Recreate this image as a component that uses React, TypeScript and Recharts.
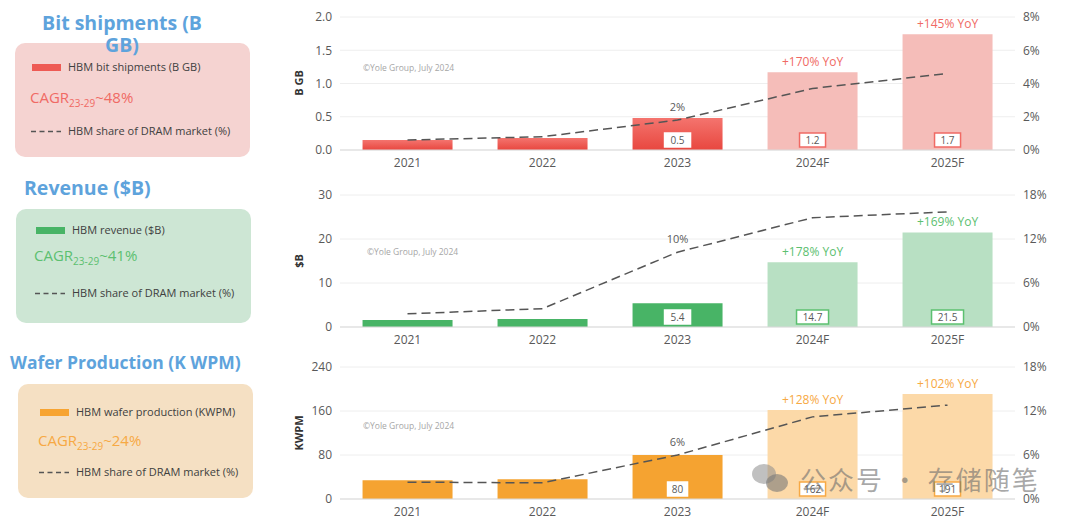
import React from 'react';
import {
  ComposedChart,
  Bar,
  Line,
  XAxis,
  YAxis,
  CartesianGrid,
  Cell,
  LabelList
} from 'recharts';

// カテゴリ
const years = ['2021', '2022', '2023', '2024F', '2025F'];

// ビット出荷量 (B GB) と DRAM 市場シェア (%)
const bitShipments = [0.15, 0.18, 0.48, 1.17, 1.74];
const bitLabels = ['', '', '0.5', '1.2', '1.7'];
const bitShare = [0.6, 0.8, 1.8, 3.7, 4.6];
const bitYoY = ['', '', '', '+170% YoY', '+145% YoY'];
const bitPct = ['', '', '2%', '', ''];

// 売上 ($B)
const revenue = [1.6, 1.8, 5.4, 14.7, 21.5];
const revenueLabels = ['', '', '5.4', '14.7', '21.5'];
const revenueShare = [1.8, 2.5, 10.2, 14.9, 15.7];
const revenueYoY = ['', '', '', '+178% YoY', '+169% YoY'];
const revenuePct = ['', '', '10%', '', ''];

// ウェハ生産 (KWPM)
const wafers = [34, 36, 80, 162, 191];
const waferLabels = ['', '', '80', '162', '191'];
const waferShare = [2.3, 2.2, 6.0, 11.2, 12.8];
const waferYoY = ['', '', '', '+128% YoY', '+102% YoY'];
const waferPct = ['', '', '6%', '', ''];

// 軸の目盛り
const bitTicks = [0, 0.5, 1, 1.5, 2];
const bitShareTicks = [0, 2, 4, 6, 8];
const revenueTicks = [0, 10, 20, 30];
const waferTicks = [0, 80, 160, 240];
const shareTicks18 = [0, 6, 12, 18];

const FONT = '"Open Sans", "Noto Sans", sans-serif';
const TITLE_BLUE = '#5ea3dc';
const TEXT_GRAY = '#595959';

interface PanelProps {
  top: number;
  plotHeight: number;
  values: number[];
  valueLabels: string[];
  share: number[];
  yoy: string[];
  pct: string[];
  leftTicks: number[];
  rightTicks: number[];
  leftFormat: (v: number) => string;
  actualFill: string;
  forecastFill: string;
  accent: string;
  gradientId?: string;
}

const ChartPanel: React.FC<PanelProps> = ({
  top, plotHeight, values, valueLabels, share, yoy, pct,
  leftTicks, rightTicks, leftFormat, actualFill, forecastFill, accent, gradientId
}) => {
  const data = years.map((y, i) => ({ year: y, value: values[i], share: share[i] }));
  const marginTop = 17;
  const height = marginTop + plotHeight + 30;

  // 棒の下部に値ボックス
  const renderValueBox = (props: any) => {
    const { x, y, width, height: h, index } = props;
    const text = valueLabels[index];
    if (!text) return null;
    const forecast = years[index].endsWith('F');
    const bw = text.length * 6 + 8;
    const bh = 14;
    const cx = x + width / 2;
    const cy = y + h - 10;
    return (
      <g key={`vb-${index}`}>
        <rect
          x={cx - bw / 2}
          y={cy - bh / 2}
          width={bw}
          height={bh}
          fill="#ffffff"
          stroke={forecast ? accent : '#ffffff'}
          strokeWidth={1.5}
        />
        <text x={cx} y={cy + 3.5} textAnchor="middle" fontSize={10} fill={TEXT_GRAY} fontFamily={FONT}>
          {text}
        </text>
      </g>
    );
  };

  const renderYoY = (props: any) => {
    const { x, y, width, index } = props;
    const text = yoy[index];
    if (!text) return null;
    return (
      <text key={`yoy-${index}`} x={x + width / 2} y={y - 6} textAnchor="middle" fontSize={12} fill={accent} fontFamily={FONT}>
        {text}
      </text>
    );
  };

  const renderPct = (props: any) => {
    const { x, y, index } = props;
    const text = pct[index];
    if (!text) return null;
    return (
      <text key={`pct-${index}`} x={x} y={y - 9} textAnchor="middle" fontSize={11} fill={TEXT_GRAY} fontFamily={FONT}>
        {text}
      </text>
    );
  };

  return (
    <div style={{ position: 'absolute', left: 280, top, width: 790, height }}>
      <ComposedChart
        width={790}
        height={height}
        data={data}
        margin={{ top: marginTop, right: 5, left: 0, bottom: 0 }}
        barCategoryGap="16.7%"
      >
        {gradientId && (
          <defs>
            <linearGradient id={gradientId} x1="0" y1="0" x2="0" y2="1">
              <stop offset="0%" stopColor="#f4746e" />
              <stop offset="100%" stopColor="#e8473f" />
            </linearGradient>
          </defs>
        )}
        <CartesianGrid yAxisId="left" vertical={false} stroke="#eeeeee" />
        <XAxis
          dataKey="year"
          axisLine={{ stroke: '#d9d9d9' }}
          tickLine={false}
          height={30}
          tick={{ fontSize: 12, fill: TEXT_GRAY, fontFamily: FONT }}
        />
        <YAxis
          yAxisId="left"
          width={60}
          domain={[leftTicks[0], leftTicks[leftTicks.length - 1]]}
          ticks={leftTicks}
          tickFormatter={leftFormat}
          axisLine={false}
          tickLine={false}
          tick={{ fontSize: 12, fill: TEXT_GRAY, fontFamily: FONT }}
        />
        <YAxis
          yAxisId="right"
          orientation="right"
          width={50}
          domain={[rightTicks[0], rightTicks[rightTicks.length - 1]]}
          ticks={rightTicks}
          tickFormatter={(v: number) => `${v}%`}
          axisLine={false}
          tickLine={false}
          tick={{ fontSize: 12, fill: TEXT_GRAY, fontFamily: FONT, textAnchor: 'start' }}
        />
        <Bar yAxisId="left" dataKey="value" isAnimationActive={false}>
          {data.map((d, i) => (
            <Cell
              key={`cell-${i}`}
              fill={d.year.endsWith('F') ? forecastFill : (gradientId ? `url(#${gradientId})` : actualFill)}
            />
          ))}
          <LabelList dataKey="value" content={renderValueBox} />
          <LabelList dataKey="value" content={renderYoY} />
        </Bar>
        <Line
          yAxisId="right"
          dataKey="share"
          type="linear"
          stroke="#555555"
          strokeWidth={1.5}
          strokeDasharray="9 5"
          dot={false}
          activeDot={false}
          isAnimationActive={false}
        >
          <LabelList dataKey="share" content={renderPct} />
        </Line>
      </ComposedChart>
    </div>
  );
};

interface LegendBoxProps {
  title: React.ReactNode;
  titleStyle: React.CSSProperties;
  box: { left: number; top: number };
  bg: string;
  swatch: string;
  swatchOffset: { x: number; y: number };
  seriesName: string;
  cagr: string;
  cagrColor: string;
  cagrY: number;
  dashY: number;
}

const LegendBox: React.FC<LegendBoxProps> = ({
  title, titleStyle, box, bg, swatch, swatchOffset, seriesName, cagr, cagrColor, cagrY, dashY
}) => (
  <>
    <div style={{ position: 'absolute', left: box.left, top: box.top, width: 235, height: 114, background: bg, borderRadius: 10 }}>
      <div style={{ position: 'absolute', left: swatchOffset.x, top: swatchOffset.y, width: 29, height: 7, background: swatch }} />
      <div style={{ position: 'absolute', left: swatchOffset.x + 36, top: swatchOffset.y - 5, fontSize: 11, color: '#404040', fontFamily: FONT, whiteSpace: 'nowrap' }}>
        {seriesName}
      </div>
      <div style={{ position: 'absolute', left: swatchOffset.x - 2, top: cagrY - 11, fontSize: 15, color: cagrColor, fontFamily: FONT, whiteSpace: 'nowrap' }}>
        CAGR<sub style={{ fontSize: 10 }}>23-29</sub>~{cagr}
      </div>
      <svg style={{ position: 'absolute', left: swatchOffset.x - 2, top: dashY - 1 }} width={32} height={3}>
        <line x1={1} y1={1.5} x2={31} y2={1.5} stroke="#555" strokeWidth={1.3} strokeDasharray="5 3.5" />
      </svg>
      <div style={{ position: 'absolute', left: swatchOffset.x + 36, top: dashY - 8, fontSize: 11, color: '#404040', fontFamily: FONT, whiteSpace: 'nowrap' }}>
        HBM share of DRAM market (%)
      </div>
    </div>
    <div style={{ position: 'absolute', fontWeight: 700, fontSize: 18, color: TITLE_BLUE, fontFamily: FONT, lineHeight: '22px', ...titleStyle }}>
      {title}
    </div>
  </>
);

const axisTitle = (text: string, cy: number) => (
  <div
    style={{
      position: 'absolute',
      left: 298,
      top: cy,
      transform: 'translate(-50%, -50%) rotate(-90deg)',
      fontSize: 11,
      fontWeight: 700,
      color: '#333',
      fontFamily: FONT,
      whiteSpace: 'nowrap'
    }}
  >
    {text}
  </div>
);

const copyright = (left: number, top: number) => (
  <div style={{ position: 'absolute', left, top, fontSize: 8.5, color: '#a6a6a6', fontFamily: FONT, whiteSpace: 'nowrap' }}>
    ©Yole Group, July 2024
  </div>
);

const App: React.FC = () => {
  return (
    <div style={{ position: 'absolute', left: 0, top: 0, width: 1080, height: 523, background: '#ffffff', overflow: 'hidden' }}>
      <LegendBox
        title={<>Bit shipments (B<br />GB)</>}
        titleStyle={{ left: 12, top: 12, width: 220, textAlign: 'center', fontSize: 19.5 }}
        box={{ left: 15, top: 43 }}
        bg="#f5d3d1"
        swatch="#ee5a54"
        swatchOffset={{ x: 17, y: 21 }}
        seriesName="HBM bit shipments (B GB)"
        cagr="48%"
        cagrColor="#f06a64"
        cagrY={55}
        dashY={88}
      />
      <LegendBox
        title="Revenue ($B)"
        titleStyle={{ left: 24, top: 177, fontSize: 19.5 }}
        box={{ left: 16, top: 209 }}
        bg="#cde6d4"
        swatch="#48b466"
        swatchOffset={{ x: 20, y: 18 }}
        seriesName="HBM revenue ($B)"
        cagr="41%"
        cagrColor="#5cc070"
        cagrY={47}
        dashY={84}
      />
      <LegendBox
        title="Wafer Production (K WPM)"
        titleStyle={{ left: 10, top: 351, fontSize: 17.5 }}
        box={{ left: 18, top: 384 }}
        bg="#f5e0c3"
        swatch="#f7a431"
        swatchOffset={{ x: 22, y: 25 }}
        seriesName="HBM wafer production (KWPM)"
        cagr="24%"
        cagrColor="#f7a944"
        cagrY={57}
        dashY={88}
      />

      <ChartPanel
        top={0}
        plotHeight={133}
        values={bitShipments}
        valueLabels={bitLabels}
        share={bitShare}
        yoy={bitYoY}
        pct={bitPct}
        leftTicks={bitTicks}
        rightTicks={bitShareTicks}
        leftFormat={(v: number) => v.toFixed(1)}
        actualFill="#ee5a54"
        forecastFill="#f5bdb9"
        accent="#f06a64"
        gradientId="redGrad"
      />
      <ChartPanel
        top={178}
        plotHeight={132}
        values={revenue}
        valueLabels={revenueLabels}
        share={revenueShare}
        yoy={revenueYoY}
        pct={revenuePct}
        leftTicks={revenueTicks}
        rightTicks={shareTicks18}
        leftFormat={(v: number) => `${v}`}
        actualFill="#48b466"
        forecastFill="#b8e0c3"
        accent="#5cc070"
      />
      <ChartPanel
        top={350}
        plotHeight={132}
        values={wafers}
        valueLabels={waferLabels}
        share={waferShare}
        yoy={waferYoY}
        pct={waferPct}
        leftTicks={waferTicks}
        rightTicks={shareTicks18}
        leftFormat={(v: number) => `${v}`}
        actualFill="#f5a331"
        forecastFill="#fcd9a8"
        accent="#f7a944"
      />

      {axisTitle('B GB', 83)}
      {axisTitle('$B', 261)}
      {axisTitle('KWPM', 433)}

      {copyright(363, 62)}
      {copyright(367, 246)}
      {copyright(363, 420)}

      {/* 透かし */}
      <div style={{ position: 'absolute', left: 752, top: 464, width: 24, height: 20, borderRadius: '50%', background: 'rgba(140,140,140,0.55)' }} />
      <div style={{ position: 'absolute', left: 766, top: 474, width: 22, height: 18, borderRadius: '50%', background: 'rgba(120,120,120,0.6)' }} />
      <div
        style={{
          position: 'absolute',
          left: 800,
          top: 466,
          fontSize: 26,
          lineHeight: '26px',
          color: 'rgba(110,110,110,0.6)',
          fontFamily: '"Noto Sans CJK SC", sans-serif',
          whiteSpace: 'nowrap',
          letterSpacing: 2
        }}
      >
        公众号 · 存储随笔
      </div>
    </div>
  );
};

export default App;
